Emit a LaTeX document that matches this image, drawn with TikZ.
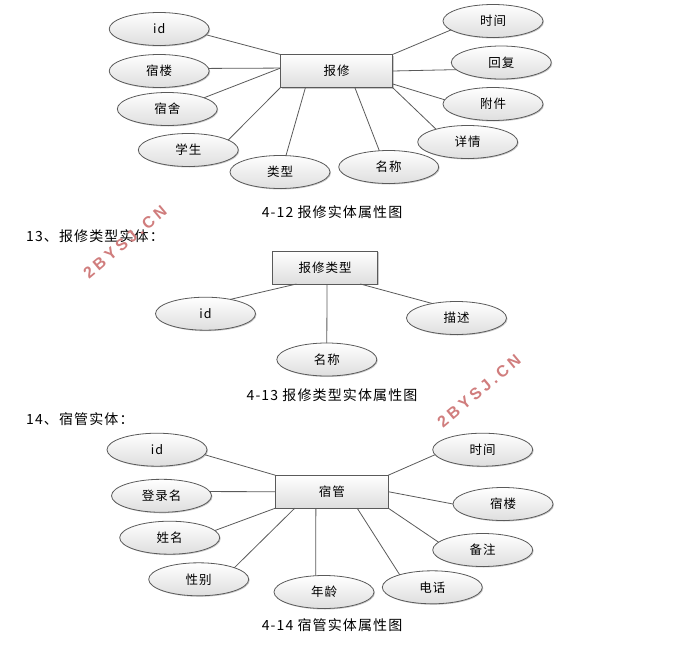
\documentclass[tikz,border=0pt]{standalone}
\usepackage{fontspec}
\usepackage{tikz}
\usetikzlibrary{shapes.geometric}
\usetikzlibrary{shadows}
\newfontfamily\cjkFont[LetterSpace=8]{Noto Sans CJK SC}
\newfontfamily\markFont[LetterSpace=22]{Liberation Sans}
\definecolor{borderColor}{RGB}{90,90,90}
\definecolor{shadeColor}{RGB}{222,222,222}
\definecolor{markColor}{RGB}{208,125,125}
\tikzstyle{diagram} = [x = 1pt, y = -1pt]
\tikzstyle{entityShape} = [rectangle, draw=borderColor, thick, top color=white, bottom color=shadeColor, inner sep=0pt, outer sep=0pt, font=\cjkFont\fontsize{12.5}{14}\selectfont, drop shadow={shadow xshift=1pt, shadow yshift=-1pt, fill=black!35, opacity=.6}]
\tikzstyle{attributeShape} = [ellipse, draw=borderColor, thick, top color=white, bottom color=shadeColor, minimum width=100pt, minimum height=33pt, inner sep=0pt, outer sep=0pt, font=\cjkFont\fontsize{12.5}{14}\selectfont, drop shadow={shadow xshift=1pt, shadow yshift=-1pt, fill=black!35, opacity=.6}]
\tikzstyle{linkLine} = [color=borderColor, thick]
\tikzstyle{captionText} = [font=\cjkFont\fontsize{14}{16}\selectfont, inner sep=0pt]
\tikzstyle{headingText} = [font=\cjkFont\fontsize{14}{16}\selectfont, anchor=west, inner sep=0pt]
\tikzstyle{markText} = [font=\markFont\bfseries\fontsize{16}{18}\selectfont, color=markColor, rotate=40, inner sep=0pt]
\newcommand{\entityNode}[6]{\node [entityShape, minimum width=#4pt, minimum height=#5pt] (#1) at (#2,#3) {#6};}
\newcommand{\attributeNode}[4]{\node [attributeShape] (#1) at (#2,#3) {#4};}
\newcommand{\linkNodes}[2]{\draw [linkLine] (#1) -- (#2);}
\begin{document}
\begin{tikzpicture}[diagram]
  \useasboundingbox (0,0) rectangle (691,648);
  \entityNode{repair}{336.5}{71}{112}{33}{报修}
  \attributeNode{repairId}{159.2}{29}{id}
  \attributeNode{repairBuilding}{159.2}{71}{宿楼}
  \attributeNode{repairRoom}{167.3}{109}{宿舍}
  \attributeNode{repairStudent}{188.3}{150}{学生}
  \attributeNode{repairType}{280}{172}{类型}
  \attributeNode{repairName}{388.7}{167}{名称}
  \attributeNode{repairDetail}{467.7}{142}{详情}
  \attributeNode{repairFile}{493}{104}{附件}
  \attributeNode{repairReply}{501.3}{62.5}{回复}
  \attributeNode{repairTime}{493}{21}{时间}
  \linkNodes{repairId.-7}{repair.north west}
  \linkNodes{repairBuilding.3.5}{repair.177}
  \linkNodes{repairRoom.17}{repair.177}
  \linkNodes{repairStudent.14}{repair.south west}
  \linkNodes{repairType.70}{repair.208}
  \linkNodes{repairName.120}{repair.-42}
  \linkNodes{repairDetail.158}{repair.south east}
  \linkNodes{repairFile.175}{repair.-13}
  \linkNodes{repairReply.189}{repair.east}
  \linkNodes{repairTime.192}{repair.north east}
  \node [captionText] (repairCaption) at (332,212) {4-12 报修实体属性图};

  \node [headingText] (typeHeading) at (26,236.5) {13、报修类型实体：};
  \entityNode{repairKind}{325}{267.5}{105}{33}{报修类型}
  \attributeNode{kindId}{205.5}{313.7}{id}
  \attributeNode{kindName}{326.8}{359.5}{名称}
  \attributeNode{kindText}{456.5}{318}{描述}
  \linkNodes{kindId.30}{repairKind.210}
  \linkNodes{kindName.north}{repairKind.-83}
  \linkNodes{kindText.149}{repairKind.-25}
  \node [captionText] (kindCaption) at (332,395) {4-13 报修类型实体属性图};

  \node [headingText] (keeperHeading) at (26,419.5) {14、宿管实体：};
  \entityNode{keeper}{331.8}{491.7}{113}{33}{宿管}
  \attributeNode{keeperId}{157}{449.7}{id}
  \attributeNode{keeperLogin}{161.5}{495.8}{登录名}
  \attributeNode{keeperName}{169.7}{537.7}{姓名}
  \attributeNode{keeperSex}{198.7}{579.3}{性别}
  \attributeNode{keeperAge}{324}{592}{年龄}
  \attributeNode{keeperPhone}{432.3}{587.3}{电话}
  \attributeNode{keeperNote}{482.7}{550}{备注}
  \attributeNode{keeperBuilding}{503}{504}{宿楼}
  \attributeNode{keeperTime}{482.7}{449.7}{时间}
  \linkNodes{keeperId.-6}{keeper.north west}
  \linkNodes{keeperLogin.5}{keeper.west}
  \linkNodes{keeperName.9}{keeper.south west}
  \linkNodes{keeperSex.18}{keeper.204}
  \linkNodes{keeperAge.117}{keeper.226}
  \linkNodes{keeperPhone.159}{keeper.-33}
  \linkNodes{keeperNote.170}{keeper.south east}
  \linkNodes{keeperBuilding.west}{keeper.east}
  \linkNodes{keeperTime.186}{keeper.north east}
  \node [captionText] (keeperCaption) at (332,625) {4-14 宿管实体属性图};

  \node [markText] (markLeft) at (125,242) {2BYSJ.CN};
  \node [markText] (markRight) at (479,391) {2BYSJ.CN};
\end{tikzpicture}
\end{document}
